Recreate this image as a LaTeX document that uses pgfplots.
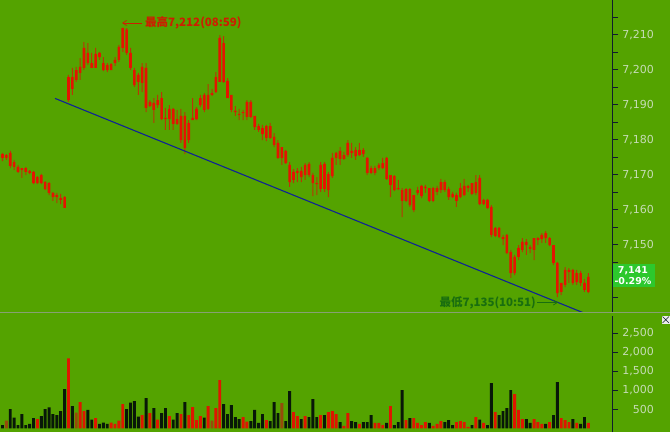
\documentclass[border=0pt]{standalone}
\usepackage{pgfplots}
\pgfplotsset{compat=1.18}
\usepackage{pgfplotstable}
\usepackage{fontspec}
\setmainfont{DejaVu Sans}
\newfontfamily\cjk{Noto Sans CJK SC}
\usetikzlibrary{arrows.meta}
\definecolor{bg}{RGB}{84,163,0}
\definecolor{bodyred}{RGB}{228,20,0}
\definecolor{wickc}{RGB}{185,55,5}
\definecolor{volblack}{RGB}{8,24,8}
\definecolor{volred}{RGB}{222,22,0}
\definecolor{volbrown}{RGB}{150,75,10}
\definecolor{axisc}{RGB}{15,30,45}
\definecolor{tickc}{RGB}{198,220,182}
\definecolor{sepc}{RGB}{135,160,115}
\definecolor{trendc}{RGB}{15,35,150}
\definecolor{hic}{RGB}{205,30,0}
\definecolor{loc}{RGB}{25,110,15}
\definecolor{boxc}{RGB}{45,200,45}

% price candles: i, open, high, low, close
\pgfplotstableread{
i o h l c
0 7174.8 7176.2 7173.9 7175.9
1 7174.8 7175.9 7174.2 7175.6
2 7172.5 7176.8 7171.9 7176.2
3 7172.2 7174.2 7171.3 7173.6
4 7170.8 7172.8 7170.5 7172.2
5 7171.3 7171.9 7169.1 7171.9
6 7170.8 7172.2 7169.9 7171.9
7 7170.5 7171.3 7170.2 7171.1
8 7167.6 7171.1 7167.3 7170.8
9 7167.6 7169.6 7167.3 7169.3
10 7167.6 7170.2 7167.3 7169.9
11 7165.9 7168.2 7165.6 7167.9
12 7164.8 7167.9 7164.2 7167.6
13 7163.6 7165.1 7162.5 7164.8
14 7163.6 7164.8 7161.9 7164.2
15 7162.8 7164.5 7161.6 7163.3
16 7160.5 7163.9 7160.5 7163.6
17 7191.3 7198.5 7190.8 7197.9
18 7194.5 7200.5 7192.8 7197.9
19 7197.1 7200.8 7196.5 7199.9
20 7199.1 7203.3 7197.1 7200.8
21 7200.5 7207.9 7199.9 7206.2
22 7201.9 7207.6 7201.3 7204.8
23 7200.5 7204.8 7200.5 7201.9
24 7200.5 7206.2 7200.5 7204.5
25 7203.6 7205.1 7202.8 7204.8
26 7199.9 7203.6 7199.6 7201.9
27 7199.9 7201.9 7199.3 7201.3
28 7199.9 7201.9 7199.9 7201.6
29 7201.9 7203.6 7201.1 7202.8
30 7202.8 7207.1 7202.2 7206.5
31 7206.2 7212.0 7205.1 7211.9
32 7204.8 7211.9 7204.2 7211.5
33 7200.5 7206.2 7199.9 7204.8
34 7195.6 7200.5 7195.1 7199.9
35 7196.5 7199.1 7192.8 7198.5
36 7196.2 7201.9 7193.6 7200.8
37 7189.1 7201.9 7187.9 7200.5
38 7189.6 7191.3 7189.3 7190.8
39 7188.5 7191.9 7184.8 7190.5
40 7189.9 7192.8 7189.1 7191.3
41 7185.9 7193.6 7185.6 7191.9
42 7185.9 7189.1 7182.8 7186.2
43 7185.9 7189.9 7182.8 7188.8
44 7184.5 7189.1 7182.8 7188.8
45 7184.5 7188.5 7184.2 7185.9
46 7179.9 7188.8 7179.1 7186.8
47 7177.6 7187.9 7175.9 7186.8
48 7179.9 7185.6 7179.1 7184.8
49 7185.6 7191.9 7185.6 7186.2
50 7185.9 7189.3 7185.6 7188.8
51 7189.9 7192.8 7189.3 7191.9
52 7188.5 7193.3 7187.9 7192.8
53 7188.8 7195.9 7188.5 7192.8
54 7192.8 7194.5 7192.5 7193.3
55 7193.6 7199.3 7193.3 7197.9
56 7196.5 7209.9 7196.5 7209.1
57 7196.5 7209.6 7196.2 7207.6
58 7191.9 7197.6 7191.9 7196.8
59 7188.5 7192.8 7187.9 7192.8
60 7187.9 7189.6 7186.8 7188.2
61 7187.1 7188.8 7185.6 7187.3
62 7187.6 7188.5 7185.6 7187.9
63 7186.5 7191.3 7185.6 7190.8
64 7186.5 7191.3 7186.2 7190.8
65 7183.6 7186.8 7182.8 7186.8
66 7182.8 7184.5 7182.2 7183.9
67 7181.6 7184.2 7179.9 7183.3
68 7180.5 7184.2 7179.6 7183.9
69 7180.5 7184.8 7180.2 7183.9
70 7178.5 7181.9 7177.9 7180.8
71 7174.8 7179.9 7174.5 7179.1
72 7174.8 7177.9 7172.8 7177.9
73 7173.3 7177.1 7173.1 7176.8
74 7167.9 7173.6 7166.5 7172.8
75 7168.5 7171.6 7167.6 7170.8
76 7170.5 7171.9 7167.9 7171.1
77 7169.3 7172.2 7167.9 7171.1
78 7169.9 7173.3 7168.5 7172.8
79 7169.9 7173.6 7169.3 7173.1
80 7167.6 7170.5 7163.9 7169.9
81 7167.3 7169.3 7164.2 7167.6
82 7165.9 7173.6 7165.1 7172.8
83 7165.9 7173.6 7165.1 7173.1
84 7165.6 7170.8 7163.6 7170.2
85 7169.6 7176.2 7169.1 7174.8
86 7174.8 7176.5 7172.8 7176.2
87 7174.5 7177.9 7172.8 7176.8
88 7174.5 7176.5 7174.2 7175.6
89 7175.6 7179.9 7175.1 7179.1
90 7176.2 7179.1 7174.8 7176.8
91 7175.3 7177.9 7174.2 7177.1
92 7175.6 7179.1 7175.3 7177.1
93 7175.9 7177.6 7175.1 7177.1
94 7170.5 7175.1 7169.9 7174.8
95 7170.5 7172.5 7170.2 7171.9
96 7170.5 7172.5 7169.9 7171.9
97 7171.9 7173.3 7171.3 7172.8
98 7171.9 7174.8 7171.6 7173.3
99 7168.8 7175.1 7168.5 7174.8
100 7167.1 7169.9 7163.6 7169.9
101 7165.6 7169.9 7165.3 7169.6
102 7165.9 7168.5 7165.6 7166.2
103 7162.5 7166.2 7157.9 7165.6
104 7162.5 7166.2 7162.2 7165.9
105 7161.3 7166.2 7160.8 7165.9
106 7159.9 7164.2 7159.3 7164.2
107 7164.8 7166.5 7164.2 7165.6
108 7163.9 7167.1 7163.3 7166.8
109 7166.2 7167.1 7164.8 7166.5
110 7162.5 7166.2 7162.2 7166.2
111 7162.5 7166.5 7162.2 7166.2
112 7165.1 7166.8 7164.2 7166.2
113 7165.6 7168.8 7164.8 7167.9
114 7165.6 7168.5 7165.1 7167.9
115 7163.6 7166.5 7162.8 7165.9
116 7163.6 7165.1 7163.3 7164.5
117 7162.5 7164.8 7160.8 7164.2
118 7163.6 7167.6 7163.3 7166.2
119 7164.2 7168.8 7163.9 7166.8
120 7166.2 7167.1 7165.1 7166.8
121 7164.5 7167.6 7164.2 7167.6
122 7164.8 7169.9 7164.2 7167.9
123 7161.6 7169.9 7161.3 7169.1
124 7161.6 7163.1 7161.3 7162.8
125 7160.5 7163.1 7160.2 7162.8
126 7152.8 7161.3 7152.2 7160.8
127 7152.5 7155.1 7152.2 7154.8
128 7152.2 7155.1 7151.9 7154.8
129 7151.6 7152.8 7149.9 7152.2
130 7147.6 7153.1 7147.3 7152.8
131 7141.9 7148.5 7140.5 7147.9
132 7141.9 7147.1 7141.3 7146.5
133 7146.5 7149.9 7145.6 7149.1
134 7148.5 7151.9 7147.9 7150.8
135 7149.9 7151.6 7147.1 7150.8
136 7148.8 7149.9 7147.6 7149.3
137 7148.5 7151.9 7145.6 7151.9
138 7151.3 7152.2 7149.9 7151.9
139 7151.6 7153.3 7150.5 7152.8
140 7151.9 7153.9 7150.5 7153.3
141 7149.9 7152.2 7149.6 7151.9
142 7144.8 7149.9 7144.2 7149.9
143 7136.2 7145.1 7135.0 7144.8
144 7136.5 7139.1 7135.6 7139.1
145 7138.5 7143.6 7137.9 7142.8
146 7142.2 7143.3 7139.1 7142.8
147 7139.1 7143.1 7138.5 7142.8
148 7139.3 7142.8 7138.5 7141.9
149 7139.1 7142.5 7138.2 7141.9
150 7137.1 7140.2 7136.5 7139.1
151 7136.5 7141.9 7136.2 7140.8
}\candles

% volume: k = 0 black, 1 red, 2 brown
\pgfplotstableread{
i v k
0 87 0
1 200 2
2 508 0
3 279 0
4 87 0
5 376 0
6 87 0
7 114 0
8 270 0
9 244 1
10 323 0
11 508 0
12 552 0
13 376 0
14 350 0
15 455 0
16 1034 0
17 1841 1
18 587 0
19 411 2
20 692 1
21 455 1
22 482 0
23 227 0
24 270 1
25 114 0
26 149 0
27 114 0
28 149 1
29 114 1
30 200 1
31 639 1
32 508 0
33 675 0
34 718 0
35 306 0
36 350 1
37 797 0
38 402 1
39 534 0
40 227 1
41 402 0
42 534 0
43 323 1
44 227 0
45 402 0
46 376 1
47 692 0
48 350 1
49 560 1
50 218 1
51 323 1
52 279 0
53 587 1
54 200 2
55 534 1
56 1271 1
57 639 0
58 376 0
59 613 0
60 297 0
61 244 0
62 297 1
63 174 1
64 192 0
65 482 0
66 140 0
67 376 0
68 218 1
69 192 0
70 692 0
71 402 0
72 666 2
73 192 0
74 981 0
75 429 1
76 323 1
77 244 0
78 323 1
79 297 0
80 771 0
81 297 0
82 350 1
83 350 0
84 429 1
85 455 1
86 376 1
87 166 0
88 61 1
89 402 1
90 192 0
91 166 0
92 114 1
93 166 0
94 166 0
95 350 0
96 140 1
97 140 1
98 87 1
99 140 0
100 587 1
101 87 0
102 166 0
103 1007 0
104 218 1
105 270 0
106 270 1
107 140 1
108 87 1
109 166 1
110 140 0
111 61 1
112 114 1
113 192 1
114 166 0
115 218 0
116 87 0
117 166 1
118 192 1
119 166 1
120 35 1
121 87 0
122 297 1
123 227 0
124 140 1
125 87 0
126 1192 0
127 429 1
128 350 0
129 455 0
130 534 0
131 1007 0
132 902 1
133 482 1
134 244 1
135 244 0
136 140 0
137 244 1
138 166 1
139 114 1
140 114 0
141 166 1
142 350 0
143 1218 0
144 270 1
145 218 1
146 166 1
147 244 0
148 140 1
149 114 0
150 297 0
151 140 1
}\vol

\pgfplotsset{chartaxis/.style={
  scale only axis, width=612pt,
  xmin=-0.644, xmax=157.09,
  axis x line=none, axis y line*=right,
  axis line style={draw=axisc, line width=1pt, -},
  tick align=outside,
  major tick length=6pt, minor tick length=6pt,
  tick style={draw=axisc, line width=0.9pt},
  yticklabel style={font=\fontsize{11}{12}\selectfont, text=tickc, anchor=east, inner sep=0pt, xshift=36pt},
  /pgf/number format/assume math mode=true,
  /pgf/number format/1000 sep={,},
  clip=true,
}}

\begin{document}
\begin{tikzpicture}[x=1pt,y=1pt]
\useasboundingbox (0pt,0pt) rectangle (670pt,432pt);
\fill[bg] (0pt,0pt) rectangle (670pt,432pt);

% price panel (prices drawn relative to 7100; tick labels add it back)
\begin{axis}[chartaxis,
  at={(0pt,119pt)}, anchor=south west, height=313pt,
  ymin=30.49, ymax=119.91,
  ytick={50,60,...,110}, minor ytick={35,40,45,...,115},
  yticklabel={\pgfmathparse{\tick+7100}\pgfmathprintnumber[fixed,precision=0]{\pgfmathresult}},
  ybar stacked, bar shift=0pt,
]
\addplot[fill=none, draw=none, bar width=0.1] table[x=i, y expr=\thisrow{l}-7100] {\candles};
\addplot[fill=wickc, draw=none, bar width=0.26] table[x=i, y expr=\thisrow{o}-\thisrow{l}] {\candles};
\addplot[fill=bodyred, draw=none, bar width=0.68] table[x=i, y expr=\thisrow{c}-\thisrow{o}] {\candles};
\addplot[fill=wickc, draw=none, bar width=0.26] table[x=i, y expr=\thisrow{h}-\thisrow{c}] {\candles};
\end{axis}

% trend line overlay, same frame
\begin{axis}[scale only axis, width=612pt, height=313pt,
  at={(0pt,119pt)}, anchor=south west,
  xmin=-0.644, xmax=157.09, ymin=7130.49, ymax=7219.91,
  hide axis, clip=true]
\addplot[trendc, line width=1.1pt, mark=none] coordinates {(13.53,7191.8) (149.6,7130.6)};
\end{axis}

% volume panel
\begin{axis}[chartaxis,
  at={(0pt,0pt)}, anchor=south west, height=116pt,
  ymin=-97, ymax=2955,
  ytick={500,1000,...,2500}, minor ytick={},
]
\addplot[ybar, bar width=0.75, bar shift=0pt, fill=volblack, draw=none,
  restrict expr to domain={\thisrow{k}}{0:0}] table[x=i, y=v] {\vol};
\addplot[ybar, bar width=0.75, bar shift=0pt, fill=volred, draw=none,
  restrict expr to domain={\thisrow{k}}{1:1}] table[x=i, y=v] {\vol};
\addplot[ybar, bar width=0.75, bar shift=0pt, fill=volbrown, draw=none,
  restrict expr to domain={\thisrow{k}}{2:2}] table[x=i, y=v] {\vol};
\end{axis}

% separator line
\draw[sepc, line width=1.5pt] (0pt,119.3pt) -- (670pt,119.3pt);
% close icon
\fill[white!85!gray] (661.5pt,108pt) rectangle (670pt,116.5pt);
\draw[axisc, line width=0.6pt] (662.5pt,109pt) -- (669pt,115.5pt) (662.5pt,115.5pt) -- (669pt,109pt);

% highest annotation
\draw[hic, line width=0.7pt, -{Straight Barb[length=4pt,width=5pt]}] (142pt,409pt) -- (122pt,409pt);
\node[anchor=west, text=hic, inner sep=0pt, font=\cjk\bfseries\fontsize{11.5}{12}\selectfont] at (145pt,409pt) {最高7,212(08:59)};

% lowest annotation
\node[anchor=east, text=loc, inner sep=0pt, font=\cjk\bfseries\fontsize{11.5}{12}\selectfont] at (536pt,129.5pt) {最低7,135(10:51)};
\draw[loc, line width=0.7pt, -{Straight Barb[length=4pt,width=5pt]}] (537pt,129.5pt) -- (558pt,129.5pt);

% last price box
\fill[boxc] (612.5pt,145pt) rectangle (654.5pt,168pt);
\node[text=white, inner sep=0pt, font=\bfseries\fontsize{9.5}{10}\selectfont] at (633pt,161pt) {7,141};
\node[text=white, inner sep=0pt, font=\bfseries\fontsize{9.5}{10}\selectfont] at (633pt,150.5pt) {-0.29\%};
\end{tikzpicture}
\end{document}
